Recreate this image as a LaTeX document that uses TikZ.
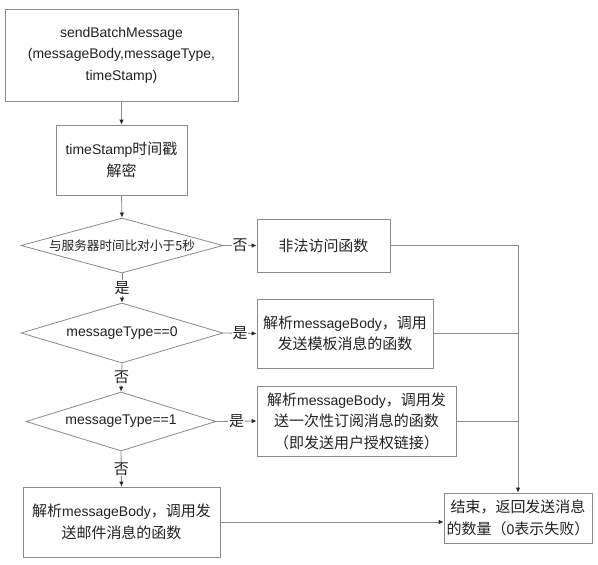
\documentclass[tikz,border=0pt]{standalone}
\usepackage{fontspec}
\setmainfont{Liberation Sans}
\newfontfamily\zh[Scale=1.07]{Noto Sans CJK SC}
\usetikzlibrary{shapes.geometric,arrows.meta}
\definecolor{ln}{HTML}{8A8A8A}
\definecolor{tx}{HTML}{222222}
\begin{document}
\begin{tikzpicture}[x=1pt,y=-1pt,
  box/.style={draw=ln, line width=0.8pt, fill=white, text=tx, align=center,
    inner sep=0pt, font=\fontsize{14}{21.5}\selectfont},
  dia/.style={diamond, draw=ln, line width=0.8pt, fill=white, text=tx, aspect=3.5,
    inner sep=0pt, font=\fontsize{14}{21.5}\selectfont},
  arr/.style={draw=ln, line width=0.8pt, -{Latex[length=5pt,width=4.5pt,color=black!85]}},
  con/.style={draw=ln, line width=0.8pt},
  lab/.style={fill=white, inner sep=1pt, text=tx, font=\zh\fontsize{14}{14}\selectfont}
]
\useasboundingbox[fill=white] (0,0) rectangle (598,565);

\node[box, minimum width=233pt, minimum height=92pt] (b1) at (121.5,55)
  {sendBatchMessage\\(messageBody,messageType,\\timeStamp)};
\node[box, minimum width=131pt, minimum height=70pt] (b2) at (121.5,160)
  {timeStamp{\zh 时间戳}\\{\zh 解密}};
\node[dia, minimum width=202pt, minimum height=55pt,
  font=\zh\fontsize{11.8}{14}\selectfont] (d1) at (122,245.5)
  {与服务器时间比对小于5秒};
\node[dia, minimum width=202pt, minimum height=60pt] (d2) at (122,333)
  {messageType==0};
\node[dia, minimum width=190pt, minimum height=59pt] (d3) at (121,421.5)
  {messageType==1};

\node[box, minimum width=133pt, minimum height=53pt] (n1) at (323.5,245.5)
  {\zh 非法访问函数};
\node[box, minimum width=176pt, minimum height=69pt] (n2) at (345,333.5)
  {{\zh 解析}messageBody{\zh ，调用}\\{\zh 发送模板消息的函数}};
\node[box, minimum width=199pt, minimum height=70pt] (n3) at (356.5,421)
  {{\zh 解析}messageBody{\zh ，调用发}\\{\zh 送一次性订阅消息的函数}\\{\zh （即发送用户授权链接）}};
\node[box, minimum width=197pt, minimum height=70pt] (n4) at (121.5,522)
  {{\zh 解析}messageBody{\zh ，调用发}\\{\zh 送邮件消息的函数}};
\node[box, minimum width=148pt, minimum height=50pt] (end) at (518,518)
  {{\zh 结束，返回发送消息}\\{\zh 的数量（}0{\zh 表示失败）}};

\draw[arr] (b1.south) -- (b2.north);
\draw[arr] (b2.south) -- (d1.north);
\draw[arr] (d1.south) -- node[lab]{是} (d2.north);
\draw[arr] (d2.south) -- node[lab]{否} (d3.north);
\draw[arr] (d3.south) -- node[lab]{否} (n4.north);
\draw[arr] (d1.east) -- node[lab]{否} (n1.west);
\draw[arr] (d2.east) -- node[lab]{是} (n2.west);
\draw[arr] (d3.east) -- node[lab]{是} (n3.west);

\draw[arr] (n1.east) -| (end.north);
\draw[con] (n2.east) -- (n2.east -| end.north);
\draw[con] (n3.east) -- (n3.east -| end.north);
\draw[arr] (n4.east) -- (n4.east -| end.west);
\end{tikzpicture}
\end{document}
